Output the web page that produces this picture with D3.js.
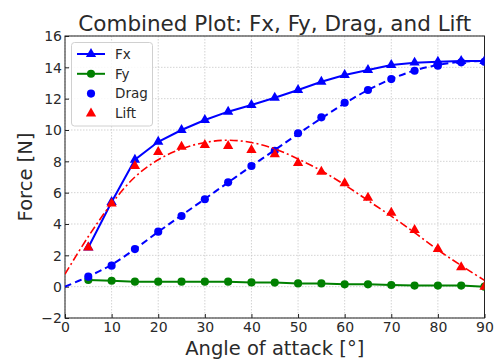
<!DOCTYPE html>
<html><head><meta charset="utf-8">
<script src="https://cdn.jsdelivr.net/npm/d3@7"></script>
<style>body{margin:0;background:#fff}svg{display:block}text{font-family:"DejaVu Sans",sans-serif}</style>
</head><body><svg id="c" width="494" height="361"></svg>
<script>
const angles = [5,10,15,20,25,30,35,40,45,50,55,60,65,70,75,80,85,90];
const fx   = [2.5,5.4,8.1,9.25,10.0,10.64,11.17,11.6,12.06,12.55,13.08,13.51,13.83,14.15,14.3,14.36,14.4,14.4];
const fy   = [0.43,0.38,0.32,0.32,0.32,0.32,0.32,0.27,0.26,0.21,0.21,0.15,0.15,0.11,0.07,0.07,0.07,0.0];
const drag = [0.64,1.34,2.4,3.51,4.51,5.58,6.66,7.7,8.67,9.79,10.81,11.74,12.55,13.25,13.78,14.1,14.32,14.35];
const lift = [2.5,5.3,7.7,8.6,8.93,9.04,8.98,8.72,8.45,7.9,7.34,6.6,5.68,4.72,3.62,2.4,1.24,0.0];
const fitAngles = [0,5,10,15,20,25,30,35,40,45,50,55,60,65,70,75,80,85,90];
const dragFit = [0,0.65,1.4,2.4,3.5,4.55,5.6,6.65,7.7,8.72,9.75,10.75,11.7,12.55,13.25,13.8,14.15,14.35,14.4];
const liftFit = [0.8,3.2,5.3,7.0,8.1,8.8,9.2,9.35,9.2,8.8,8.15,7.4,6.5,5.5,4.5,3.45,2.35,1.35,0.4];
const xTicks = [0,10,20,30,40,50,60,70,80,90];
const yTicks = [-2,0,2,4,6,8,10,12,14,16];

const svg = d3.select("#c");
const L=65,R=484.5,T=36,B=318;
const x = d3.scaleLinear().domain([0,90]).range([L,R]);
const y = d3.scaleLinear().domain([-2,16]).range([B,T]);

// grid
svg.append("g").selectAll("line").data(xTicks).join("line")
  .attr("x1",d=>x(d)).attr("x2",d=>x(d)).attr("y1",T).attr("y2",B)
  .attr("stroke","#c8c8c8").attr("stroke-width",0.8).attr("stroke-dasharray","1.5,1.5");
svg.append("g").selectAll("line").data(yTicks).join("line")
  .attr("y1",d=>y(d)).attr("y2",d=>y(d)).attr("x1",L).attr("x2",R)
  .attr("stroke","#c8c8c8").attr("stroke-width",0.8).attr("stroke-dasharray","1.5,1.5");

// axes
const fmt = d => d<0 ? "\u2212"+Math.abs(d) : String(d);
const xa = svg.append("g").attr("transform",`translate(0,${B})`)
  .call(d3.axisBottom(x).tickValues(xTicks).tickFormat(fmt).tickSize(-4).tickPadding(4));
const ya = svg.append("g").attr("transform",`translate(${L},0)`)
  .call(d3.axisLeft(y).tickValues(yTicks).tickFormat(fmt).tickSize(-4).tickPadding(3));
[xa,ya].forEach(g=>{g.select(".domain").remove();
  g.selectAll("text").attr("font-size",14).attr("font-family","DejaVu Sans").attr("fill","#2a2a2a");
  g.selectAll("line").attr("stroke","#222");});
ya.selectAll("text").attr("dy","0.35em");
svg.append("rect").attr("x",L).attr("y",T).attr("width",R-L).attr("height",B-T)
  .attr("fill","none").attr("stroke","#222").attr("stroke-width",1);

const line = d3.line().x(d=>x(d[0])).y(d=>y(d[1]));
const smooth = d3.line().x(d=>x(d[0])).y(d=>y(d[1])).curve(d3.curveCatmullRom);
const tri = d3.symbol().type(d3.symbolTriangle).size(46);
const circ = d3.symbol().type(d3.symbolCircle).size(52);

const pts = (xs,ys)=>xs.map((a,i)=>[a,ys[i]]);
svg.append("clipPath").attr("id","cp").append("rect").attr("x",L).attr("y",T).attr("width",R-L).attr("height",B-T);
const g = svg.append("g").attr("clip-path","url(#cp)");

// Fx
g.append("path").attr("d",line(pts(angles,fx))).attr("fill","none").attr("stroke","blue").attr("stroke-width",2);
g.append("g").selectAll("path").data(pts(angles,fx)).join("path").attr("d",tri)
  .attr("transform",d=>`translate(${x(d[0])},${y(d[1])})`).attr("fill","blue");
// Fy
g.append("path").attr("d",line(pts(angles,fy))).attr("fill","none").attr("stroke","green").attr("stroke-width",2);
g.append("g").selectAll("path").data(pts(angles,fy)).join("path").attr("d",circ)
  .attr("transform",d=>`translate(${x(d[0])},${y(d[1])})`).attr("fill","green");
// Drag points
g.append("g").selectAll("path").data(pts(angles,drag)).join("path").attr("d",circ)
  .attr("transform",d=>`translate(${x(d[0])},${y(d[1])})`).attr("fill","blue");
// Lift points
g.append("g").selectAll("path").data(pts(angles,lift)).join("path").attr("d",tri)
  .attr("transform",d=>`translate(${x(d[0])},${y(d[1])})`).attr("fill","red");
// fits
g.append("path").attr("d",smooth(pts(fitAngles,dragFit))).attr("fill","none").attr("stroke","blue")
  .attr("stroke-width",2).attr("stroke-dasharray","7,4");
g.append("path").attr("d",smooth(pts(fitAngles,liftFit))).attr("fill","none").attr("stroke","red")
  .attr("stroke-width",1.6).attr("stroke-dasharray","8,3,2,3");

// legend
const lg = svg.append("g");
lg.append("rect").attr("x",71.5).attr("y",42.5).attr("width",81).attr("height",83.5).attr("rx",3)
  .attr("fill","rgba(255,255,255,0.85)").attr("stroke","#d0d0d0");
const items = [
  {label:"Fx", color:"blue", line:true, sym:tri},
  {label:"Fy", color:"green", line:true, sym:circ},
  {label:"Drag", color:"blue", line:false, sym:circ},
  {label:"Lift", color:"red", line:false, sym:tri}];
items.forEach((it,i)=>{
  const yy = 54 + i*19.8;
  if(it.line) lg.append("line").attr("x1",77).attr("x2",105).attr("y1",yy).attr("y2",yy)
    .attr("stroke",it.color).attr("stroke-width",2);
  lg.append("path").attr("d",it.sym).attr("transform",`translate(91,${yy})`).attr("fill",it.color);
  lg.append("text").attr("x",115).attr("y",yy).attr("dy","0.35em").attr("font-size",13.5)
    .attr("fill","#2a2a2a").text(it.label);
});

// titles
svg.append("text").attr("x",(L+R)/2).attr("y",31).attr("text-anchor","middle")
  .attr("font-size",21.5).attr("fill","#2a2a2a").text("Combined Plot: Fx, Fy, Drag, and Lift");
svg.append("text").attr("x",(L+R)/2).attr("y",355).attr("text-anchor","middle")
  .attr("font-size",19.5).attr("fill","#2a2a2a").text("Angle of attack [\u00b0]");
svg.append("text").attr("transform",`translate(32,${(T+B)/2}) rotate(-90)`).attr("text-anchor","middle")
  .attr("font-size",19.5).attr("fill","#2a2a2a").text("Force [N]");
</script></body></html>
